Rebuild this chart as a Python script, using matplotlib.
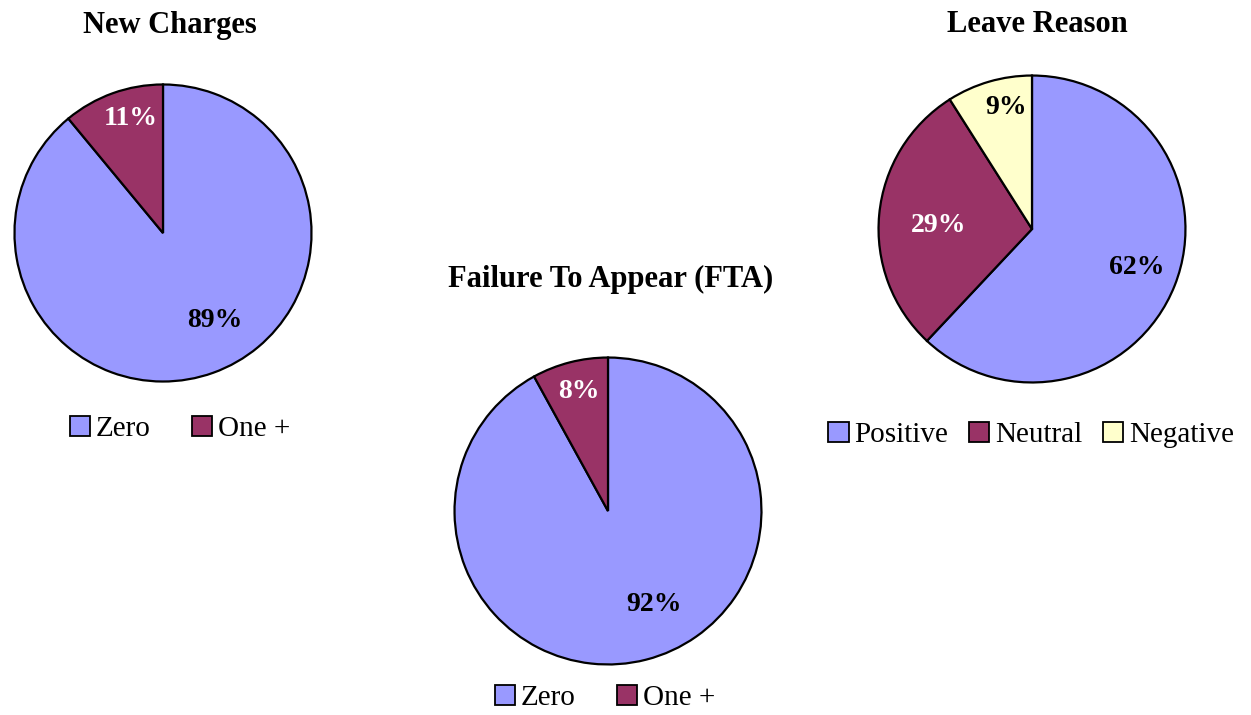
import matplotlib
matplotlib.use('Agg')
import matplotlib.pyplot as plt
from matplotlib.patches import Patch

# data
charges_labels = ['Zero', 'One +']
charges_values = [89, 11]
fta_labels = ['Zero', 'One +']
fta_values = [92, 8]
leave_labels = ['Positive', 'Neutral', 'Negative']
leave_values = [62, 29, 9]

BLUE = '#9999FF'
MAROON = '#993366'
YELLOW = '#FFFFCC'

plt.rcParams['font.family'] = ['Liberation Serif', 'DejaVu Serif']

W, H = 1251, 715
fig = plt.figure(figsize=(W / 100, H / 100), dpi=100)


def px_axes(cx, cy, r):
    return fig.add_axes([(cx - r) / W, (H - cy - r) / H, 2 * r / W, 2 * r / H])


def draw_pie(cx, cy, r, values, labels, colors, label_pos, label_colors,
             title, title_xy, leg_xy, leg_gap):
    ax = px_axes(cx, cy, r)
    wedges, _ = ax.pie(values, colors=colors, startangle=90, counterclock=False,
                       radius=1.0, wedgeprops=dict(edgecolor='black', linewidth=1.6))
    ax.set_xlim(-1.01, 1.01)
    ax.set_ylim(-1.01, 1.01)
    ax.set_aspect('equal')
    ax.axis('off')
    for v, (lx, ly), tc in zip(values, label_pos, label_colors):
        ax.text(lx, ly, '%d%%' % v, ha='center', va='center', fontsize=20,
                fontweight='bold', color=tc)
    fig.text(title_xy[0] / W, 1 - title_xy[1] / H, title, ha='center', va='center',
             fontsize=22, fontweight='bold')
    handles = [Patch(facecolor=c, edgecolor='black', linewidth=1.3) for c in colors]
    fig.legend(handles, labels, loc='center', bbox_to_anchor=(leg_xy[0] / W, 1 - leg_xy[1] / H),
               ncol=len(labels), frameon=False, fontsize=21, handlelength=0.7,
               handleheight=0.7, handletextpad=0.2, columnspacing=leg_gap, borderpad=0)


draw_pie(163, 233, 150, charges_values, charges_labels, [BLUE, MAROON],
         [(0.35, -0.59), (-0.22, 0.77)], ['black', 'white'],
         'New Charges', (170, 25), (180, 429), 1.4)
draw_pie(608, 511, 155, fta_values, fta_labels, [BLUE, MAROON],
         [(0.30, -0.61), (-0.19, 0.78)], ['black', 'white'],
         'Failure To Appear (FTA)', (611, 279), (605, 698), 1.4)
draw_pie(1032, 229, 155, leave_values, leave_labels, [BLUE, MAROON, YELLOW],
         [(0.68, -0.25), (-0.61, 0.02), (-0.17, 0.79)], ['black', 'white', 'black'],
         'Leave Reason', (1037, 25), (1031, 435), 0.7)

fig.savefig('out.png', dpi=100, facecolor='white')
